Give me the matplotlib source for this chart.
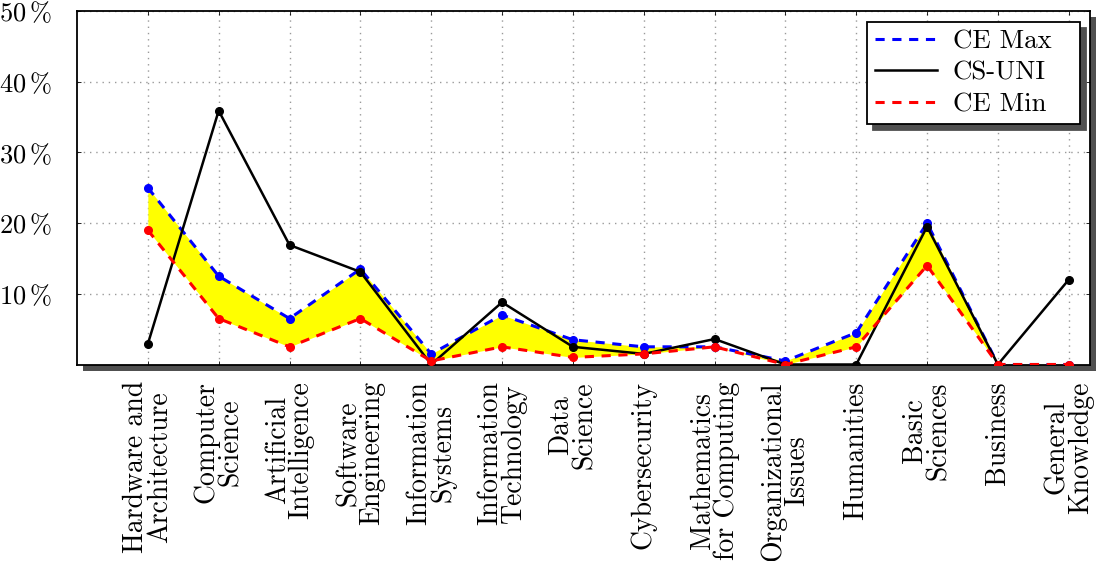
import matplotlib
matplotlib.use("Agg")
import matplotlib.pyplot as plt
import matplotlib.transforms as mtransforms
from matplotlib.patches import Rectangle
import numpy as np

# categories and values (percent)
categories = ["Hardware and\nArchitecture", "Computer\nScience", "Artificial\nIntelligence",
              "Software\nEngineering", "Information\nSystems", "Information\nTechnology",
              "Data\nScience", "Cybersecurity", "Mathematics\nfor Computing",
              "Organizational\nIssues", "Humanities", "Basic\nSciences", "Business",
              "General\nKnowledge"]
ce_max = [25, 12.5, 6.5, 13.5, 1.5, 7, 3.5, 2.5, 2.5, 0.5, 4.5, 20, 0, 0]
cs_uni = [2.9, 35.9, 16.9, 13.1, 0, 8.8, 2.5, 1.5, 3.6, 0, 0, 19.5, 0, 12]
ce_min = [19, 6.5, 2.5, 6.5, 0.5, 2.5, 1, 1.5, 2.5, 0, 2.5, 14, 0, 0]
y_ticks = [10, 20, 30, 40, 50]

plt.rcParams['font.family'] = 'serif'
plt.rcParams['font.serif'] = ['cmr10']
plt.rcParams['mathtext.fontset'] = 'cm'
plt.rcParams['axes.formatter.use_mathtext'] = True

fig = plt.figure(figsize=(10.97, 5.61), dpi=100)
ax = fig.add_axes([77/1097, 1 - 364.5/561, (1090 - 77)/1097, (364.5 - 11)/561])

x = np.arange(len(categories))

# yellow band between min and max
ax.fill_between(x, ce_min, ce_max, color='#ffff00', linewidth=0, zorder=1)

ax.plot(x, ce_max, color='#0000ff', lw=2.2, dashes=(3, 2.5), marker='o', ms=5.5,
        label='CE Max', zorder=3)
ax.plot(x, cs_uni, color='black', lw=1.8, marker='o', ms=5.5, label='CS-UNI', zorder=4)
ax.plot(x, ce_min, color='#ff0000', lw=2.2, dashes=(3, 2.5), marker='o', ms=5.5,
        label='CE Min', zorder=5)

ax.set_xlim(-1, 13.3)
ax.set_ylim(0, 50)

ax.set_xticks(x)
ax.set_xticklabels(categories, rotation=90, ha='center', va='top',
                   multialignment='center', linespacing=0.88, fontsize=20)
ax.set_yticks(y_ticks)
ax.set_yticklabels([r'$%d\,\%%$' % v for v in y_ticks], fontsize=19)
ax.tick_params(axis='x', pad=12, direction='in', length=3, width=0.6, top=True)
ax.tick_params(axis='y', pad=18, direction='in', length=3, width=0.6, right=True)

ax.grid(True, color='#9a9a9a', linestyle=(0, (1, 3.5)), linewidth=1.0, zorder=0)
ax.set_axisbelow(True)

for sp in ax.spines.values():
    sp.set_linewidth(1.3)
    sp.set_color('black')

# drop shadow behind axes box
offset = mtransforms.ScaledTranslation(6/100, -6/100, fig.dpi_scale_trans)
shadow = Rectangle((0, 0), 1, 1, transform=ax.transAxes + offset,
                   facecolor='#505050', edgecolor='none', zorder=-1)
fig.add_artist(shadow)

# legend box spans a fixed width like the pgfplots one
leg = ax.legend(loc='upper left', bbox_to_anchor=(0.780, 0.3, 0.2103, 0.6697),
                mode='expand', borderaxespad=0, fontsize=19.3, frameon=True,
                fancybox=False, handlelength=2.3, handletextpad=0.6,
                borderpad=0.3, labelspacing=0.28,
                shadow={'ox': 4.3, 'oy': -4.3, 'color': '#505050', 'alpha': 1})
leg.get_frame().set_edgecolor('black')
leg.get_frame().set_linewidth(1.3)
for h in leg.legend_handles:
    h.set_marker('')

fig.savefig('out.png', dpi=100)
